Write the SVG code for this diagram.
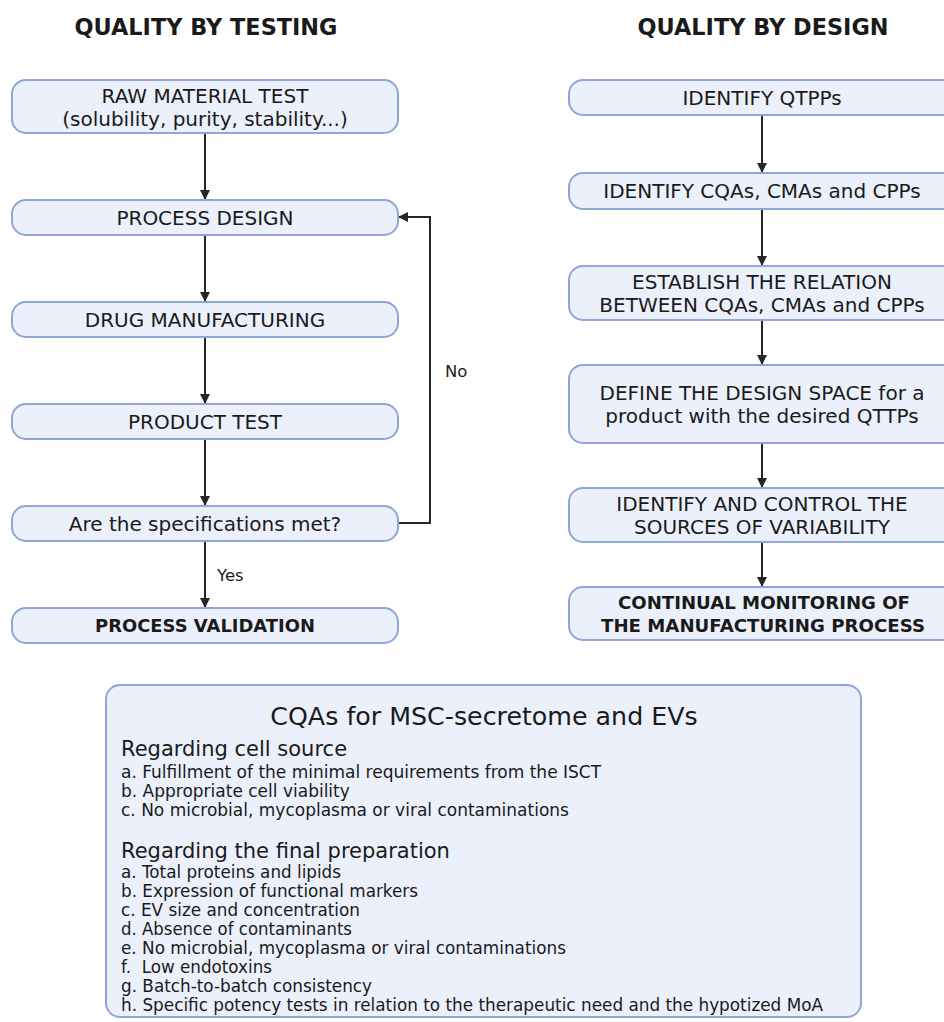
<svg xmlns="http://www.w3.org/2000/svg" width="944" height="1022" viewBox="0 0 944 1022">
<defs>
<style>
text{font-family:"DejaVu Sans",Verdana,sans-serif;fill:#1a1a1a}
.box{fill:#ebf0fb;stroke:#8fa6d6;stroke-width:2}
.t{font-size:20px;text-anchor:middle;dominant-baseline:central}
.b{font-weight:bold;font-size:18.5px}
.h{font-size:22.4px;font-weight:bold;text-anchor:middle;dominant-baseline:central}
.c{stroke:#262626;stroke-width:2;fill:none}
.lbl{font-size:16.5px;dominant-baseline:central}
.sub{font-size:21px}
.it{font-size:17px}
.cd{font-size:17.5px}
</style>
<marker id="ah" viewBox="0 0 10 10" refX="10" refY="5" markerWidth="10" markerHeight="10" markerUnits="userSpaceOnUse" orient="auto">
<path d="M0,0 L10,5 L0,10 z" fill="#262626"/>
</marker>
</defs>
<rect width="944" height="1022" fill="#fff"/>
<text class="h" x="206" y="27">QUALITY BY TESTING</text>
<text class="h" x="763" y="27">QUALITY BY DESIGN</text>

<g id="connectors">
<path class="c" d="M205,133 V200" marker-end="url(#ah)"/>
<path class="c" d="M205,235 V302" marker-end="url(#ah)"/>
<path class="c" d="M205,337 V404" marker-end="url(#ah)"/>
<path class="c" d="M205,439 V506" marker-end="url(#ah)"/>
<path class="c" d="M205,541 V608" marker-end="url(#ah)"/>
<path class="c" d="M398,523 H430 V217 H398" marker-end="url(#ah)"/>
<text class="lbl" x="445" y="371">No</text>
<text class="lbl" x="217" y="575">Yes</text>
<path class="c" d="M762,115 V173" marker-end="url(#ah)"/>
<path class="c" d="M762,209 V266" marker-end="url(#ah)"/>
<path class="c" d="M762,320 V365" marker-end="url(#ah)"/>
<path class="c" d="M762,443 V488" marker-end="url(#ah)"/>
<path class="c" d="M762,542 V587" marker-end="url(#ah)"/>
</g>

<g id="raw"><rect class="box" x="12" y="80" width="386" height="53" rx="14"/>
<text class="t" x="205" y="96">RAW MATERIAL TEST</text><text class="t" x="205" y="119">(solubility, purity, stability...)</text></g>
<g id="design"><rect class="box" x="12" y="200" width="386" height="35" rx="14"/><text class="t" x="205" y="217.5">PROCESS DESIGN</text></g>
<g id="manuf"><rect class="box" x="12" y="302" width="386" height="35" rx="14"/><text class="t" x="205" y="319.5">DRUG MANUFACTURING</text></g>
<g id="ptest"><rect class="box" x="12" y="404" width="386" height="35" rx="14"/><text class="t" x="205" y="421.5">PRODUCT TEST</text></g>
<g id="spec"><rect class="box" x="12" y="506" width="386" height="35" rx="14"/><text class="t" x="205" y="523.5">Are the specifications met?</text></g>
<g id="valid"><rect class="box" x="12" y="608" width="386" height="35" rx="14"/><text class="t b" x="205" y="625.5" textLength="220" lengthAdjust="spacingAndGlyphs">PROCESS VALIDATION</text></g>

<g id="qtpp"><rect class="box" x="569" y="80" width="390" height="35" rx="14"/><text class="t" x="762" y="97.5">IDENTIFY QTPPs</text></g>
<g id="cqas"><rect class="box" x="569" y="173" width="390" height="36" rx="14"/><text class="t" x="762" y="191">IDENTIFY CQAs, CMAs and CPPs</text></g>
<g id="relation"><rect class="box" x="569" y="266" width="390" height="54" rx="14"/>
<text class="t" x="762" y="281.5">ESTABLISH THE RELATION</text><text class="t" x="762" y="304.5">BETWEEN CQAs, CMAs and CPPs</text></g>
<g id="space"><rect class="box" x="569" y="365" width="390" height="78" rx="14"/>
<text class="t" x="762" y="392.5">DEFINE THE DESIGN SPACE for a</text><text class="t" x="762" y="415.5">product with the desired QTTPs</text></g>
<g id="variab"><rect class="box" x="569" y="488" width="390" height="54" rx="14"/>
<text class="t" x="762" y="503.5">IDENTIFY AND CONTROL THE</text><text class="t" x="762" y="526.5">SOURCES OF VARIABILITY</text></g>
<g id="monitor"><rect class="box" x="569" y="587" width="390" height="53" rx="14"/>
<text class="t b" x="764" y="602.5" textLength="292" lengthAdjust="spacingAndGlyphs">CONTINUAL MONITORING OF</text><text class="t b" x="763" y="625.5" textLength="324" lengthAdjust="spacingAndGlyphs">THE MANUFACTURING PROCESS</text></g>

<g id="cqa-box"><rect class="box" x="106" y="685" width="755" height="332" rx="14"/>
<text class="h" x="484" y="716" style="font-weight:normal;font-size:25.3px">CQAs for MSC-secretome and EVs</text>
<text class="sub" x="121" y="756">Regarding cell source</text>
<text class="it" x="121" y="778">a. Fulfillment of the minimal requirements from the ISCT</text>
<text class="it" x="121" y="797">b. Appropriate cell viability</text>
<text class="it" x="121" y="816">c. No microbial, mycoplasma or viral contaminations</text>
<text class="sub" x="121" y="858">Regarding the final preparation</text>
<text class="cd" x="121" y="878" textLength="220" lengthAdjust="spacingAndGlyphs">a. Total proteins and lipids</text>
<text class="cd" x="121" y="897" textLength="297" lengthAdjust="spacingAndGlyphs">b. Expression of functional markers</text>
<text class="cd" x="121" y="916" textLength="239" lengthAdjust="spacingAndGlyphs">c. EV size and concentration</text>
<text class="cd" x="121" y="935" textLength="231" lengthAdjust="spacingAndGlyphs">d. Absence of contaminants</text>
<text class="cd" x="121" y="954" textLength="445" lengthAdjust="spacingAndGlyphs">e. No microbial, mycoplasma or viral contaminations</text>
<text class="cd" x="121" y="973" textLength="151" lengthAdjust="spacingAndGlyphs" xml:space="preserve">f.  Low endotoxins</text>
<text class="cd" x="121" y="992" textLength="251" lengthAdjust="spacingAndGlyphs">g. Batch-to-batch consistency</text>
<text class="cd" x="121" y="1011" textLength="702" lengthAdjust="spacingAndGlyphs">h. Specific potency tests in relation to the therapeutic need and the hypotized MoA</text>
</g>
</svg>
